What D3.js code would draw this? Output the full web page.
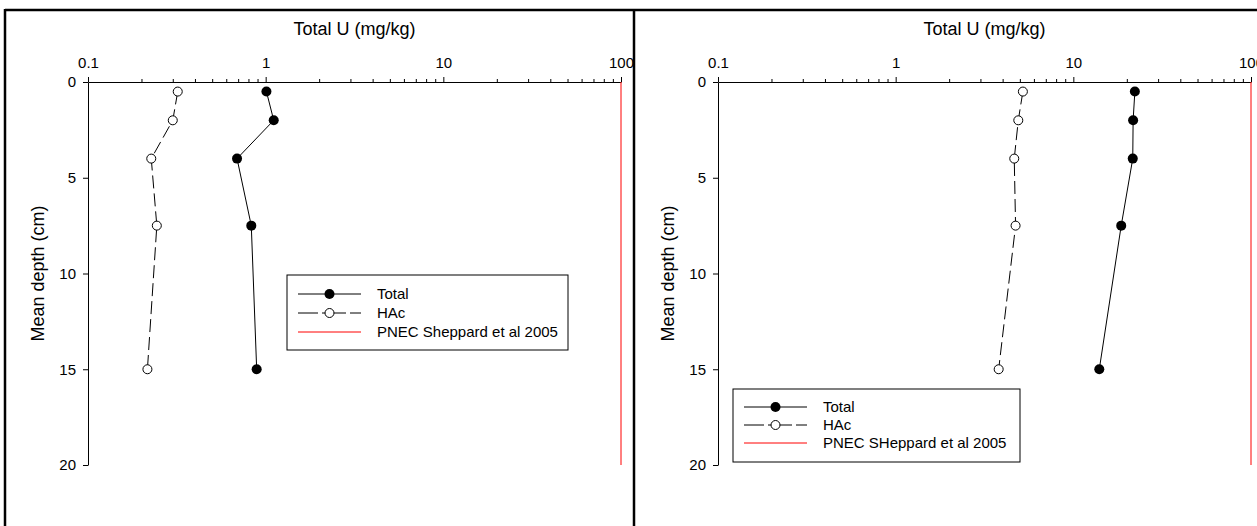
<!DOCTYPE html>
<html>
<head>
<meta charset="utf-8">
<script src="https://cdn.jsdelivr.net/npm/d3@7"></script>
<style>
html,body{margin:0;padding:0;background:#fff;}
svg{display:block;}
text{font-family:"Liberation Sans",Arial,sans-serif;fill:#000;}
</style>
</head>
<body>
<svg id="chart" width="1257" height="526"></svg>
<script>
// ---- data ----
const depths = [0.5, 2, 4, 7.5, 15];
const totalLeft = [1.01, 1.11, 0.69, 0.83, 0.89];
const hacLeft = [0.32, 0.30, 0.227, 0.244, 0.216];
const totalRight = [22.2, 21.7, 21.6, 18.6, 14.0];
const hacRight = [5.2, 4.9, 4.65, 4.73, 3.8];
const pnecValue = 100;
const xTickValues = [0.1, 1, 10, 100];
const xTickLabels = ["0.1", "1", "10", "100"];
const yTickValues = [0, 5, 10, 15, 20];
const xTitle = "Total U (mg/kg)";
const yTitle = "Mean depth (cm)";
const legendLeft = ["Total", "HAc", "PNEC Sheppard et al 2005"];
const legendRight = ["Total", "HAc", "PNEC SHeppard et al 2005"];

const svg = d3.select("#chart");
const FS = 15, FT = 18, FL = 15;

function panel(ox, total, hac, legendLabels, lg) {
  const g = svg.append("g");
  const x = d3.scaleLog().domain([0.1, 100]).range([ox, ox + 533]);
  const y = d3.scaleLinear().domain([0, 20]).range([82, 465]);

  // minor ticks
  const minors = [];
  for (let d = 0.1; d < 100; d *= 10) for (let k = 2; k <= 9; k++) minors.push(+(d * k).toPrecision(3));

  const xAxis = d3.axisTop(x).tickValues(xTickValues).tickFormat((d, i) => xTickLabels[i]).tickSizeOuter(0).tickSizeInner(5).tickPadding(9);
  const ax = g.append("g").attr("transform", `translate(0,${y(0)})`).call(xAxis);
  ax.attr("font-size", FS).attr("font-family", "Liberation Sans, Arial, sans-serif");
  ax.select(".domain").attr("stroke", "#000");
  const minorAxis = d3.axisTop(x).tickValues(minors).tickFormat("").tickSizeOuter(0).tickSizeInner(3);
  const mx = g.append("g").attr("transform", `translate(0,${y(0)})`).call(minorAxis);
  mx.select(".domain").remove();

  const yAxis = d3.axisLeft(y).tickValues(yTickValues).tickSizeOuter(0).tickSizeInner(5).tickPadding(7);
  const ay = g.append("g").attr("transform", `translate(${x(0.1)},0)`).call(yAxis);
  ay.attr("font-size", FS).attr("font-family", "Liberation Sans, Arial, sans-serif");

  // titles
  g.append("text").attr("x", (x(0.1) + x(100)) / 2).attr("y", 35).attr("text-anchor", "middle")
    .attr("font-size", FT).text(xTitle);
  g.append("text").attr("transform", `translate(${ox - 50},${(y(0) + y(20)) / 2}) rotate(-90)`)
    .attr("text-anchor", "middle").attr("dy", "0.35em").attr("font-size", FT).text(yTitle);

  // PNEC line
  g.append("line").attr("x1", x(pnecValue)).attr("x2", x(pnecValue)).attr("y1", y(0)).attr("y2", y(20))
    .attr("stroke", "#ff0000").attr("stroke-width", 1);

  const line = d3.line().x(d => x(d[0])).y(d => y(d[1]));
  const hacPts = hac.map((v, i) => [v, depths[i]]);
  const totPts = total.map((v, i) => [v, depths[i]]);
  g.append("path").attr("d", line(hacPts)).attr("fill", "none").attr("stroke", "#000").attr("stroke-width", 1)
    .attr("stroke-dasharray", "13,5");
  g.append("path").attr("d", line(totPts)).attr("fill", "none").attr("stroke", "#000").attr("stroke-width", 1);
  g.selectAll(".hac").data(hacPts).enter().append("circle").attr("cx", d => x(d[0])).attr("cy", d => y(d[1]))
    .attr("r", 4.5).attr("fill", "#fff").attr("stroke", "#000").attr("stroke-width", 1);
  g.selectAll(".tot").data(totPts).enter().append("circle").attr("cx", d => x(d[0])).attr("cy", d => y(d[1]))
    .attr("r", 5).attr("fill", "#000");

  // legend
  const L = g.append("g");
  L.append("rect").attr("x", lg.x).attr("y", lg.y).attr("width", lg.w).attr("height", lg.h)
    .attr("fill", "#fff").attr("stroke", "#000").attr("stroke-width", 1);
  const rows = [0, 1, 2].map(i => lg.y + lg.r0 + i * lg.dy);
  const lx1 = lg.x + 11, lx2 = lg.x + 74, lm = (lx1 + lx2) / 2;
  L.append("line").attr("x1", lx1).attr("x2", lx2).attr("y1", rows[0]).attr("y2", rows[0]).attr("stroke", "#000");
  L.append("circle").attr("cx", lm).attr("cy", rows[0]).attr("r", 5).attr("fill", "#000");
  L.append("line").attr("x1", lx1).attr("x2", lx2).attr("y1", rows[1]).attr("y2", rows[1]).attr("stroke", "#000")
    .attr("stroke-dasharray", "20,4,4,0");
  L.append("circle").attr("cx", lm).attr("cy", rows[1]).attr("r", 4.5).attr("fill", "#fff").attr("stroke", "#000");
  L.append("line").attr("x1", lx1).attr("x2", lx2).attr("y1", rows[2]).attr("y2", rows[2]).attr("stroke", "#ff0000");
  legendLabels.forEach((t, i) => {
    L.append("text").attr("x", lg.x + 90).attr("y", rows[i]).attr("dy", "0.35em").attr("font-size", FL).text(t);
  });
}

panel(88, totalLeft, hacLeft, legendLeft, {x: 287, y: 275, w: 281, h: 75, r0: 19, dy: 19});
panel(718, totalRight, hacRight, legendRight, {x: 733, y: 389, w: 287, h: 73, r0: 18, dy: 18});

// frame borders
svg.append("line").attr("x1", 5).attr("x2", 1257).attr("y1", 10).attr("y2", 10).attr("stroke", "#000").attr("stroke-width", 2.5);
svg.append("line").attr("x1", 5).attr("x2", 5).attr("y1", 9).attr("y2", 526).attr("stroke", "#000").attr("stroke-width", 2.5);
svg.append("line").attr("x1", 634).attr("x2", 634).attr("y1", 9).attr("y2", 526).attr("stroke", "#000").attr("stroke-width", 2.5);
</script>
</body>
</html>
